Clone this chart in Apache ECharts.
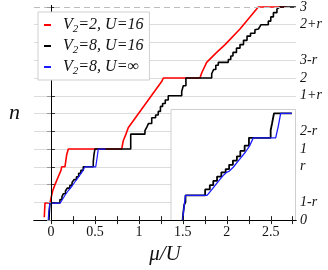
<!DOCTYPE html>
<html><head><meta charset="utf-8">
<script src="https://cdn.jsdelivr.net/npm/echarts@6/dist/echarts.min.js"></script>
<style>html,body{margin:0;padding:0;background:#fff}#c{width:328px;height:270px}</style>
</head><body><div id="c"></div>
<script>
// ---- tick positions / labels ----
const xTicks = [0, 0.25, 0.5, 0.75, 1, 1.25, 1.5, 1.75, 2, 2.25, 2.5, 2.75];
const xLabels = [0, 0.5, 1, 1.5, 2, 2.5];
const yTicks = [0, 0.25, 0.5, 0.75, 1, 1.25, 1.5, 1.75, 2, 2.25, 2.5, 2.75, 3];
const rightLabelValues = [0, 0.25, 0.75, 1, 1.25, 1.75, 2, 2.25, 2.75, 3];
const rightLabelTexts = ['0', '1-r', 'r', '1', '2-r', '1+r', '2', '3-r', '2+r', '3'];
const seriesNames = ['V2=2, U=16', 'V2=8, U=16', 'V2=8, U=inf'];

// ---- main curves: [mu/U, n] ----
const redMain = [
  [-0.076, 0.04], [-0.068, 0.05], [-0.068, 0.24], [-0.011, 0.24], [-0.003, 0.29],
  [0.019, 0.41], [0.046, 0.50], [0.083, 0.61], [0.114, 0.70], [0.122, 0.75],
  [0.159, 0.75], [0.179, 0.92], [0.197, 1.0], [0.804, 1.0], [0.823, 1.12],
  [0.853, 1.21], [0.879, 1.30], [1.259, 1.95], [1.278, 2.0], [1.695, 2.0],
  [1.714, 2.07], [1.771, 2.22], [1.885, 2.36], [1.98, 2.47], [2.15, 2.69],
  [2.358, 3.0], [2.681, 3.0]
];
const blackMain = [
  [-0.023, 0.0], [-0.018, 0.12], [-0.011, 0.24], [0.102, 0.24], [0.102, 0.29],
  [0.125, 0.29], [0.125, 0.33], [0.140, 0.33], [0.140, 0.37], [0.165, 0.37],
  [0.165, 0.41], [0.185, 0.41], [0.185, 0.45], [0.215, 0.45], [0.215, 0.49],
  [0.240, 0.49], [0.240, 0.53], [0.262, 0.53], [0.262, 0.57], [0.290, 0.57],
  [0.290, 0.61], [0.315, 0.61], [0.315, 0.66], [0.340, 0.66], [0.340, 0.70],
  [0.367, 0.70], [0.367, 0.75], [0.481, 0.75], [0.481, 0.82], [0.489, 0.82],
  [0.489, 0.92], [0.500, 0.92], [0.500, 1.0], [0.907, 1.0], [0.907, 1.21],
  [1.069, 1.21], [1.069, 1.26], [1.09, 1.26], [1.09, 1.31], [1.11, 1.31],
  [1.11, 1.36], [1.146, 1.36], [1.146, 1.44], [1.19, 1.44], [1.19, 1.48],
  [1.22, 1.48], [1.22, 1.53], [1.245, 1.53], [1.245, 1.60], [1.27, 1.60],
  [1.27, 1.64], [1.30, 1.64], [1.30, 1.69], [1.334, 1.69], [1.334, 1.75],
  [1.487, 1.75], [1.487, 1.81], [1.505, 1.81], [1.505, 1.89], [1.535, 1.89],
  [1.535, 2.0], [1.828, 2.0], [1.828, 2.06], [1.85, 2.06], [1.85, 2.12],
  [1.875, 2.12], [1.875, 2.18], [1.903, 2.18], [1.903, 2.22], [2.017, 2.22],
  [2.017, 2.26], [2.045, 2.26], [2.045, 2.31], [2.07, 2.31], [2.07, 2.36],
  [2.11, 2.36], [2.11, 2.42], [2.15, 2.42], [2.15, 2.47], [2.19, 2.47],
  [2.19, 2.53], [2.23, 2.53], [2.23, 2.59], [2.27, 2.59], [2.27, 2.63],
  [2.32, 2.63], [2.32, 2.68], [2.36, 2.69], [2.389, 2.75], [2.472, 2.75],
  [2.472, 2.80], [2.50, 2.80], [2.50, 2.86], [2.53, 2.86], [2.53, 2.92],
  [2.57, 2.92], [2.57, 2.97], [2.605, 3.0], [2.785, 3.0]
];
const blueMain = [
  [-0.031, 0.0], [-0.025, 0.12], [-0.012, 0.24], [0.105, 0.24], [0.13, 0.29],
  [0.16, 0.35], [0.20, 0.42], [0.24, 0.48], [0.28, 0.55], [0.32, 0.62],
  [0.36, 0.69], [0.387, 0.75], [0.509, 0.75], [0.525, 0.88], [0.538, 1.0],
  [0.62, 1.0]
];

// ---- inset curves (enlarged view of V2=8 for n in 0..1): [mu/U, n] ----
const blackInset = [
  [-0.030, 0.0], [-0.026, 0.07], [-0.020, 0.07], [-0.020, 0.15], [-0.013, 0.17],
  [-0.013, 0.234], [0.101, 0.234], [0.101, 0.29], [0.128, 0.29], [0.128, 0.33],
  [0.148, 0.33], [0.148, 0.37], [0.170, 0.37], [0.170, 0.41], [0.195, 0.41],
  [0.195, 0.45], [0.220, 0.45], [0.220, 0.48], [0.240, 0.48], [0.240, 0.52],
  [0.262, 0.52], [0.262, 0.56], [0.285, 0.56], [0.285, 0.60], [0.305, 0.60],
  [0.305, 0.65], [0.330, 0.65], [0.330, 0.70], [0.355, 0.70], [0.355, 0.772],
  [0.481, 0.772], [0.481, 0.843], [0.489, 0.843], [0.489, 0.906], [0.494, 0.922],
  [0.500, 1.0], [0.604, 1.0]
];
const blueInset = [
  [-0.030, 0.0], [-0.024, 0.09], [-0.018, 0.17], [-0.013, 0.234], [0.112, 0.234],
  [0.130, 0.27], [0.150, 0.31], [0.175, 0.36], [0.200, 0.41], [0.225, 0.45],
  [0.240, 0.46], [0.265, 0.50], [0.290, 0.55], [0.310, 0.59], [0.335, 0.64],
  [0.360, 0.70], [0.380, 0.772], [0.510, 0.772], [0.525, 0.88], [0.539, 1.0],
  [0.604, 1.0]
];

const SERIF = "'Liberation Serif', 'DejaVu Serif', serif";
const legendRich = {
  v: { fontFamily: SERIF, fontStyle: 'italic', fontSize: 16, color: '#111', padding: [0, 0, 0, 7] },
  t: { fontFamily: SERIF, fontStyle: 'italic', fontSize: 16, color: '#111' },
  s: { fontFamily: SERIF, fontStyle: 'italic', fontSize: 11, color: '#111', padding: [8, 0, 0, 0] }
};
function legendFmt(name) {
  const rest = name.slice(2).replace('inf', '\u221e');
  return '{v|V}{s|2}{t|' + rest + '}';
}
const splitColors = [];
for (let i = 0; i < 12; i++) splitColors.push('#dcdcdc');
splitColors.push('rgba(0,0,0,0)', 'rgba(0,0,0,0)');

const chart = echarts.init(document.getElementById('c'), null, { renderer: 'canvas' });
chart.setOption({
  animation: false,
  backgroundColor: '#fff',
  textStyle: { fontFamily: SERIF },
  grid: [
    { left: 34, top: 4, width: 262, height: 224.5, show: false },
    { left: 171, top: 109.5, width: 124.5, height: 111, show: true, backgroundColor: '#fff',
      borderColor: '#cfcfcf', borderWidth: 1, z: 1 }
  ],
  legend: {
    orient: 'vertical', left: 38, top: 12, padding: [3, 6, 3, 6], itemGap: 1,
    itemWidth: 7, itemHeight: 2, icon: 'rect',
    backgroundColor: '#fff', borderColor: '#cfcfcf', borderWidth: 1,
    data: seriesNames, formatter: legendFmt,
    textStyle: { rich: legendRich, lineHeight: 20, fontFamily: SERIF }, z: 6
  },
  xAxis: [
    { gridIndex: 0, type: 'value', position: 'bottom', min: -0.193, max: 2.787, z: 4,
      axisLine: { lineStyle: { color: '#000', width: 1 } },
      axisTick: { inside: true, length: 4, customValues: xTicks, lineStyle: { color: '#222' } },
      axisLabel: { customValues: xLabels, formatter: v => String(v), fontFamily: SERIF,
        fontSize: 14, color: '#111', margin: 5 },
      splitLine: { show: false },
      name: '\u03bc/U', nameLocation: 'middle', nameGap: 17,
      nameTextStyle: { fontFamily: SERIF, fontStyle: 'italic', fontSize: 21, color: '#111' } },
    { gridIndex: 0, type: 'value', position: 'top', min: -0.193, max: 2.787, z: 4,
      axisLine: { lineStyle: { color: '#000', width: 1 } },
      axisTick: { inside: true, length: 4, customValues: xTicks, lineStyle: { color: '#222' } },
      axisLabel: { show: false }, splitLine: { show: false } },
    { gridIndex: 1, type: 'value', min: -0.097, max: 0.625, show: false, splitLine: { show: false } }
  ],
  yAxis: [
    { gridIndex: 0, type: 'value', position: 'left', min: 0, max: 3.02, interval: 0.25, z: 0,
      axisLine: { show: true, lineStyle: { color: '#000', width: 1 } },
      axisTick: { inside: true, length: 4, customValues: yTicks, lineStyle: { color: '#333' } },
      axisLabel: { show: false },
      splitLine: { show: true, lineStyle: { color: splitColors, width: 1 } },
      name: 'n', nameLocation: 'middle', nameGap: 14, nameRotate: 0,
      nameTextStyle: { fontFamily: SERIF, fontStyle: 'italic', fontSize: 22, color: '#111' } },
    { gridIndex: 0, type: 'value', position: 'right', min: 0, max: 3.02, z: 5,
      axisLine: { show: true, lineStyle: { color: '#000', width: 1 } },
      axisTick: { inside: true, length: 4, customValues: yTicks, lineStyle: { color: '#999' } },
      axisLabel: { customValues: rightLabelValues, margin: 4,
        formatter: v => rightLabelTexts[rightLabelValues.indexOf(v)] || '',
        fontFamily: SERIF, fontStyle: 'italic', fontSize: 14, color: '#111' },
      splitLine: { show: false } },
    { gridIndex: 1, type: 'value', min: 0, max: 1.037, show: false, splitLine: { show: false } }
  ],
  series: [
    { name: seriesNames[0], type: 'line', xAxisIndex: 0, yAxisIndex: 0, data: redMain,
      symbol: 'none', color: '#ff0000', lineStyle: { width: 1.6, color: '#ff0000' }, z: 2,
      markLine: { silent: true, symbol: 'none', label: { show: false },
        lineStyle: { type: [6, 4], color: '#bdbdbd', width: 1 }, data: [{ yAxis: 3 }] } },
    { name: seriesNames[1], type: 'line', xAxisIndex: 0, yAxisIndex: 0, data: blackMain,
      symbol: 'none', color: '#000', lineStyle: { width: 1.6, color: '#000' }, z: 2 },
    { name: seriesNames[2], type: 'line', xAxisIndex: 0, yAxisIndex: 0, data: blueMain,
      symbol: 'none', color: '#1a1aff', lineStyle: { width: 1.2, color: '#1a1aff' }, z: 2 },
    { name: 'inset-black', type: 'line', xAxisIndex: 2, yAxisIndex: 2, data: blackInset,
      symbol: 'none', lineStyle: { width: 1.8, color: '#000' }, z: 3 },
    { name: 'inset-blue', type: 'line', xAxisIndex: 2, yAxisIndex: 2, data: blueInset,
      symbol: 'none', lineStyle: { width: 1.3, color: '#1a1aff' }, z: 3 }
  ]
});
</script></body></html>
